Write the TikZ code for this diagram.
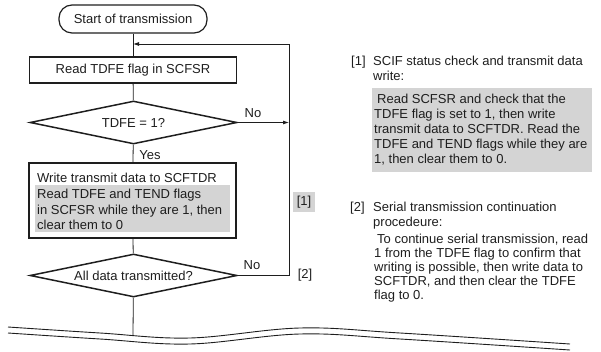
\documentclass[tikz,border=0pt]{standalone}
\usepackage{fontspec}
\setmainfont{Liberation Sans}
\usetikzlibrary{arrows.meta,shapes.geometric}
\definecolor{shade}{RGB}{212,212,212}
\definecolor{ink}{RGB}{30,30,30}
\begin{document}
\begin{tikzpicture}[x=1pt,y=-1pt,
  font=\fontsize{13}{15}\selectfont, text=ink,
  term/.style={draw=ink, line width=1.2pt, rounded corners=13pt, minimum width=148pt, minimum height=28pt, inner sep=0pt},
  proc/.style={draw=ink, line width=1.8pt, minimum width=207pt, inner sep=0pt},
  dec/.style={draw=ink, line width=1.5pt, diamond, aspect=4.8, minimum width=207pt, minimum height=43pt, inner sep=0pt},
  flow/.style={draw=ink, line width=0.8pt},
  arr/.style={flow, -{Latex[length=6pt,width=4pt]}},
  lbl/.style={inner sep=0pt, anchor=base west},
  para/.style={inner sep=0pt, anchor=north west, align=left},
  wave/.style={draw=ink, line width=0.9pt}
]
\useasboundingbox (0,0) rectangle (601,352);

% flowchart
\node[term] (start) at (133,19) {Start of transmission};
\node[proc, minimum height=26pt] (read) at (133,70) {Read TDFE flag in SCFSR};
\node[dec] (d1) at (133.5,122.5) {TDFE = 1?};
\node[proc, minimum height=75pt] (write) at (132.5,200.5) {};
\node[lbl] (wtxt) at (37,182.5) {Write transmit data to SCFTDR};
\node[fill=shade, inner sep=0pt, minimum width=195pt, minimum height=47pt, anchor=north west] (gray1) at (35,185) {};
\node[para, font=\fontsize{13}{15.5}\selectfont] (gtxt) at (37,189) {Read TDFE and TEND flags\\in SCFSR while they are 1, then\\clear them to 0};
\node[dec] (d2) at (133.5,275.5) {All data transmitted?};

\coordinate (join) at (133,44);
\coordinate (corner1) at (289,122.5);
\coordinate (corner2) at (289,275.5);
\coordinate (corner3) at (289,44);
\coordinate (bottom) at (133,335);

\draw[flow] (start) -- (read);
\draw[flow] (read) -- (d1);
\draw[flow] (d1) -- (write);
\draw[flow] (write) -- (d2);
\draw[flow] (d2) -- (bottom);
\draw[arr] (d1.east) -- (corner1);
\draw[arr] (d2.east) -- (corner2) -- (corner3) -- (join);

\node[inner sep=0pt] (no1) at (253,113) {No};
\node[inner sep=0pt] (yes) at (150,155) {Yes};
\node[inner sep=0pt] (no2) at (252,265) {No};
\node[fill=shade, minimum width=22pt, minimum height=20pt, inner sep=0pt] (m1) at (304,202) {[1]};
\node[inner sep=0pt] (m2) at (305,275.5) {[2]};

% break lines
\draw[wave] plot[smooth, tension=0.6] coordinates {(8,327) (100,333) (190,338) (300,328) (400,333) (570,344)};
\draw[wave] plot[smooth, tension=0.6] coordinates {(8,333) (100,339) (190,344) (300,334) (400,339) (570,350)};

% right-hand notes
\node[lbl] (n1) at (351,65.5) {[1]};
\node[para, font=\fontsize{13}{14.5}\selectfont] (n1t) at (373,56) {SCIF status check and transmit data\\write:};
\node[fill=shade, inner sep=0pt, minimum width=220pt, minimum height=84pt, anchor=north west] (gray2) at (372,88) {};
\node[para, font=\fontsize{13}{15}\selectfont] (g2t) at (374,94) {\hspace{3pt}Read SCFSR and check that the\\TDFE flag is set to 1, then write\\transmit data to SCFTDR. Read the\\TDFE and TEND flags while they are\\1, then clear them to 0.};
\node[lbl] (n2) at (350,211.5) {[2]};
\node[para, font=\fontsize{13}{15}\selectfont] (n2t) at (373,202) {Serial transmission continuation\\procedeure:};
\node[para, font=\fontsize{13}{14}\selectfont] (p2t) at (374,234) {\hspace{3pt}To continue serial transmission, read\\1 from the TDFE flag to confirm that\\writing is possible, then write data to\\SCFTDR, and then clear the TDFE\\flag to 0.};
\end{tikzpicture}
\end{document}
